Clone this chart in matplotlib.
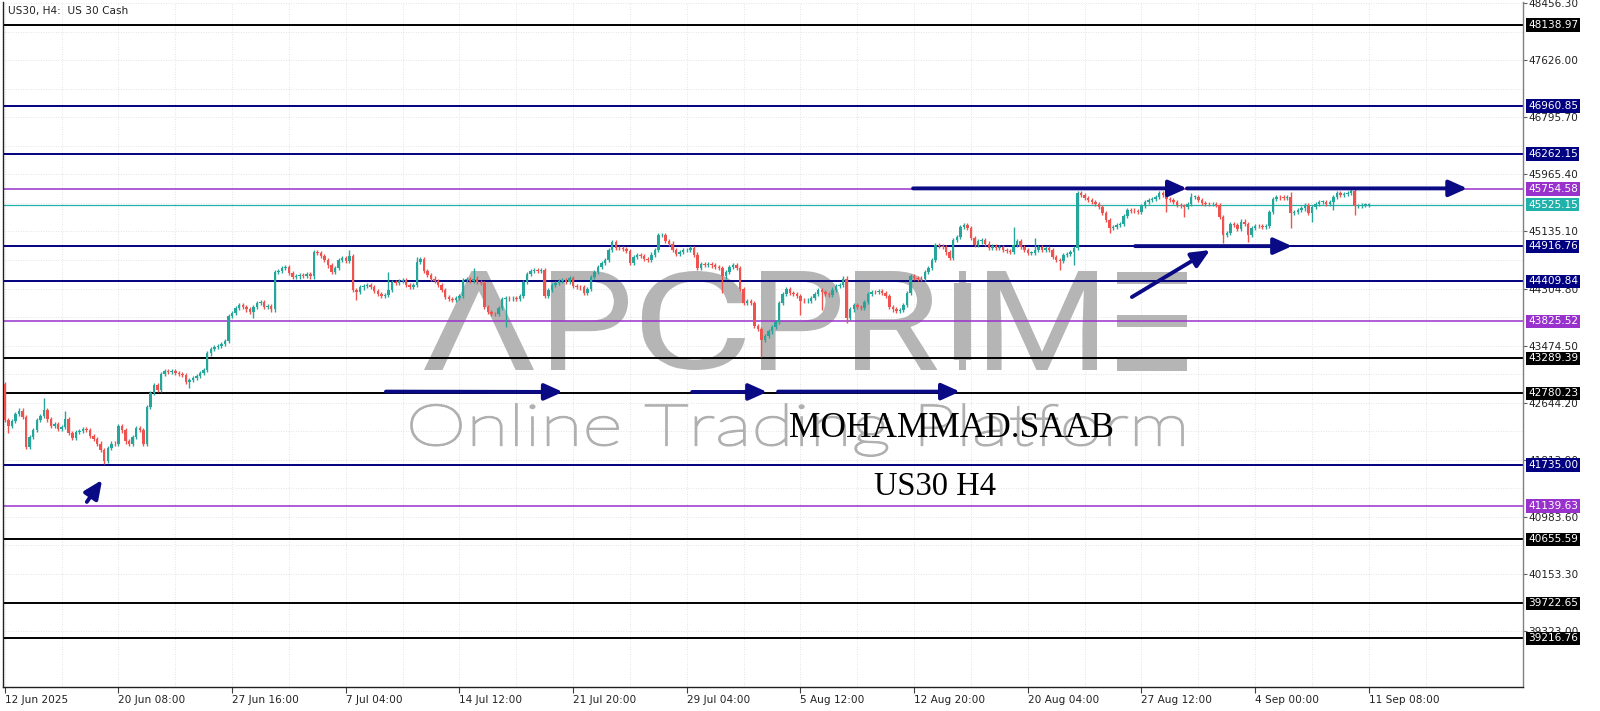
import matplotlib
matplotlib.use('Agg')
import matplotlib.pyplot as plt
import numpy as np
from matplotlib.textpath import TextPath
from matplotlib.patches import PathPatch, Rectangle
from matplotlib.font_manager import FontProperties
from matplotlib.transforms import Affine2D, blended_transform_factory

W, H = 1600, 711

# ---------------- data ----------------
first_open = 42915.0
closes = [
    42391, 42300, 42380, 42480, 42530, 42440, 42003, 42150, 42250, 42390, 42450,   # 0-10
    42540, 42400, 42300, 42330, 42260, 42290, 42400, 42200, 42130, 42220,          # 11-20
    42230, 42260, 42250, 42160, 42110, 42050, 41960, 41800, 41980, 42050,          # 21-30
    42040, 42300, 42240, 42080, 42050, 42150, 42270, 42250, 42050, 42580,          # 31-40
    42780, 42900, 42830, 43060, 43100, 43090, 43110, 43080, 43060, 43050,          # 41-50
    42950, 42970, 43000, 43030, 43080, 43120, 43360, 43430, 43460, 43470,          # 51-60
    43500, 43540, 43900, 43950, 44020, 44060, 44030, 44000, 43960, 44030,          # 61-70
    44100, 44110, 44040, 44050, 44000, 44540, 44560, 44600, 44620, 44530,          # 71-80
    44470, 44480, 44500, 44490, 44510, 44480, 44830, 44820, 44780, 44720,          # 81-90
    44640, 44550, 44600, 44720, 44750, 44700, 44780, 44280, 44250, 44320,          # 91-100
    44340, 44360, 44330, 44270, 44220, 44190, 44210, 44280, 44400, 44380,          # 101-110
    44420, 44430, 44360, 44330, 44350, 44690, 44730, 44560, 44500, 44450,          # 111-120
    44420, 44350, 44280, 44180, 44150, 44140, 44170, 44200, 44430, 44440,          # 121-130
    44420, 44450, 44400, 44390, 44030, 43960, 43940, 43930, 44020, 44150,          # 131-140
    44170, 44160, 44170, 44150, 44200, 44400, 44520, 44560, 44580, 44560,          # 141-150
    44570, 44200, 44280, 44350, 44380, 44420, 44430, 44400, 44460, 44340,          # 151-160
    44330, 44320, 44240, 44300, 44470, 44550, 44620, 44680, 44720, 44870,          # 161-170
    44980, 44900, 44890, 44880, 44850, 44670, 44760, 44790, 44780, 44740,          # 171-180
    44720, 44800, 44870, 45080, 45090, 45000, 44960, 44860, 44810, 44840,          # 181-190
    44860, 44870, 44890, 44800, 44600, 44660, 44650, 44660, 44640, 44620,          # 191-200
    44600, 44480, 44550, 44620, 44640, 44600, 44300, 44100, 44120, 44090,          # 201-210
    43760, 43720, 43560, 43620, 43680, 43740, 43820, 44100, 44230, 44300,          # 211-220
    44240, 44230, 44200, 44130, 44120, 44130, 44170, 44230, 44280, 44250,          # 221-230
    44220, 44210, 44290, 44340, 44360, 44450, 43870, 44000, 44060, 44040,          # 231-240
    44020, 44110, 44230, 44260, 44250, 44270, 44240, 44200, 44040, 44000,          # 241-250
    43980, 43990, 44070, 44240, 44480, 44460, 44450, 44440, 44550, 44600,          # 251-260
    44720, 44940, 44920, 44910, 44830, 44750, 45010, 45060, 45200, 45230,          # 261-270
    45180, 45040, 44940, 44990, 45010, 44960, 44890, 44930, 44900, 44910,          # 271-280
    44870, 44850, 44840, 44940, 44990, 44910, 44870, 44820, 44820, 44870,          # 281-290
    44910, 44860, 44900, 44870, 44770, 44720, 44700, 44790, 44810, 44830,          # 291-300
    44900, 45690, 45660, 45620, 45590, 45570, 45540, 45490, 45400, 45300,          # 301-310
    45180, 45200, 45230, 45250, 45360, 45450, 45440, 45430, 45420, 45510,          # 311-320
    45560, 45590, 45610, 45640, 45690, 45660, 45610, 45590, 45570, 45520,          # 321-330
    45510, 45490, 45540, 45640, 45640, 45590, 45550, 45540, 45530, 45530,          # 331-340
    45520, 45350, 45090, 45110, 45250, 45230, 45170, 45280, 45250, 45080,          # 341-350
    45180, 45220, 45210, 45200, 45220, 45420, 45610, 45640, 45630, 45620,          # 351-360
    45640, 45400, 45420, 45450, 45470, 45520, 45400, 45490, 45540, 45570,          # 361-370
    45570, 45540, 45560, 45640, 45690, 45670, 45680, 45700, 45720, 45500,          # 371-380
    45500, 45520, 45520, 45525.15,                                                 # 381-384
]
high_marks = {11: 42707, 17: 42530, 97: 44860, 108: 44550, 116: 44760, 132: 44600,
              171: 45010, 184: 45120, 236: 44490, 284: 45205, 290: 45035, 302: 45720,
              334: 45690, 362: 45714, 380: 45738}
low_marks = {1: 42198, 28: 41750, 52: 42852, 70: 43870, 99: 44138, 141: 43750,
             202: 44235, 213: 43313, 224: 43919, 230: 43992, 237: 43798, 297: 44574,
             301: 44647, 311: 45107, 327: 45423, 332: 45350, 343: 44962, 350: 44986,
             362: 45180, 368: 45277, 374: 45447, 380: 45374}
typical_wick = 30

level_prices = [48138.97, 46960.85, 46262.15, 45754.58, 45525.15, 44916.76, 44409.84,
                43825.52, 43289.39, 42780.23, 41735.00, 41139.63, 40655.59, 39722.65, 39216.76]
level_kinds = ['black', 'navy', 'navy', 'purple', 'teal', 'navy', 'navy',
               'purple', 'black', 'black', 'navy', 'purple', 'black', 'black', 'black']

ytick_values = [48456.30, 47626.00, 46795.70, 45965.40, 45135.10, 44304.80, 43474.50,
                42644.20, 41813.90, 40983.60, 40153.30, 39323.00]
xtick_bars = [0, 32, 64, 96, 128, 160, 192, 224, 256, 288, 320, 352, 384]
xtick_labels = ['12 Jun 2025', '20 Jun 08:00', '27 Jun 16:00', '7 Jul 04:00', '14 Jul 12:00',
                '21 Jul 20:00', '29 Jul 04:00', '5 Aug 12:00', '12 Aug 20:00', '20 Aug 04:00',
                '27 Aug 12:00', '4 Sep 00:00', '11 Sep 08:00']

# arrows: (start bar, start price) -> (end bar, end price)
arrows = [
    ((23.1, 41200), (27.4, 41520)),
    ((107.3, 42805), (157.1, 42800)),
    ((193.5, 42800), (214.6, 42800)),
    ((217.7, 42805), (268.9, 42805)),
    ((255.7, 45762), (332.8, 45762)),
    ((332.8, 45762), (411.7, 45762)),
    ((318.2, 44922), (362.4, 44922)),
    ((317.3, 44181), (339.3, 44865)),
]

# ---------------- styling ----------------
COL = {'black': '#000000', 'navy': '#000080', 'purple': '#9932CC', 'teal': '#20B2AA'}
LW = {'black': 1.4, 'navy': 1.4, 'purple': 1.1, 'teal': 0.9}
UP, DOWN = '#26A69A', '#EF5350'
NAVY = '#0A0A85'
WM = '#B5B5B5'

fig = plt.figure(figsize=(W / 100, H / 100), dpi=100)
fig.patch.set_facecolor('white')
ax = fig.add_axes([3 / W, (H - 687) / H, 1520 / W, 685 / H])
ax.set_facecolor('none')


def fit_text(text, prop, x0, y0, x1, y1, color, z, edge_lw=0.0):
    tp = TextPath((0, 0), text, size=100, prop=prop)
    ext = tp.get_extents()
    sx = (x1 - x0) / W / ext.width
    sy = (y1 - y0) / H / ext.height
    tr = (Affine2D().translate(-ext.x0, -ext.y0).scale(sx, sy)
          .translate(x0 / W, 1 - y1 / H) + fig.transFigure)
    p = PathPatch(tp, transform=tr, facecolor=color,
                  edgecolor=color if edge_lw > 0 else 'none', lw=edge_lw, zorder=z)
    ax.add_artist(p)


def px_rect(x0, y0, x1, y1, color, z):
    r = Rectangle((x0 / W, 1 - y1 / H), (x1 - x0) / W, (y1 - y0) / H,
                  transform=fig.transFigure, facecolor=color, edgecolor='none', zorder=z)
    ax.add_artist(r)


# watermark logo "APCPRIME"
logo_font = FontProperties(family='Roboto', weight='normal')
top, bot = 271, 370
for ch, (a, b) in [('Λ', (424, 534)), ('P', (551, 628)), ('C', (642, 745)),
                   ('P', (761, 840)), ('R', (855, 937)), ('M', (987, 1097))]:
    fit_text(ch, logo_font, a, top, b, bot, WM, 0.6)
# the "I" drawn as a candlestick
px_rect(959, top, 966, bot, WM, 0.6)
px_rect(954, 283, 971, 360, WM, 0.6)
# the "E" as three bars
for (t, b) in [(272, 284), (315, 327), (359, 371)]:
    px_rect(1117, t, 1187, b, WM, 0.6)
fit_text('Online Trading Platform', FontProperties(family='Lato', weight='light'),
         411, 404, 1183, 456, '#B0B0B0', 0.6, edge_lw=1.3)

# candles
c = np.array(closes, dtype=float)
o = np.array([first_open] + closes[:-1], dtype=float)
x = np.arange(len(c))
hi = np.maximum(o, c) + typical_wick
lo = np.minimum(o, c) - typical_wick
for i, v in high_marks.items():
    hi[i] = max(hi[i], v)
for i, v in low_marks.items():
    lo[i] = min(lo[i], v)
colors = [UP if cc >= oo else DOWN for oo, cc in zip(o, c)]
ax.vlines(x, lo, hi, colors=colors, lw=1.0, zorder=2)
body_b = np.minimum(o, c)
body_h = np.maximum(np.abs(c - o), 10)
ax.bar(x, body_h, bottom=body_b, width=0.7, color=colors, linewidth=0, zorder=3)

# levels
trans = blended_transform_factory(ax.transAxes, ax.transData)
for p, k in zip(level_prices, level_kinds):
    ax.axhline(p, color=COL[k], lw=LW[k], zorder=1.5)
    ax.text(1.0 + 5 / 1520, p, f'{p:.2f}', transform=trans, ha='left', va='center',
            fontsize=7.6, color='white', clip_on=False, zorder=10,
            bbox=dict(boxstyle='square,pad=0.16', fc=COL[k], ec='none'))

# arrows
for (s, e) in arrows:
    ax.annotate('', xy=e, xytext=s,
                arrowprops=dict(arrowstyle='-|>,head_length=1.0,head_width=0.45',
                                color=NAVY, lw=2.8, shrinkA=0, shrinkB=0,
                                mutation_scale=11), zorder=5)

# axes
ax.set_xlim(-0.5, 427.4)
ax.set_ylim(38507, 48474)
ax.yaxis.tick_right()
ax.set_yticks(ytick_values)
ax.set_yticklabels([f'{v:.2f}' for v in ytick_values])
yt = np.array(ytick_values)
ax.set_yticks(list((yt[:-1] + yt[1:]) / 2), minor=True)
ax.set_xticks(xtick_bars)
ax.set_xticklabels(xtick_labels)
ax.set_xticks([b + 16 for b in xtick_bars], minor=True)
for lbl in ax.get_xticklabels():
    lbl.set_ha('left')
ax.tick_params(axis='y', which='major', length=3, pad=1, labelsize=7.6,
               color='#606060', labelcolor='#222222')
ax.tick_params(axis='x', which='major', length=4, pad=2, labelsize=7.6,
               color='#404040', labelcolor='#222222')
ax.tick_params(which='minor', length=0)
ax.grid(which='both', color='#DADADA', ls=(0, (1, 2)), lw=0.6, zorder=0)
ax.set_axisbelow(True)
ax.spines['top'].set_visible(False)
ax.spines['left'].set_color('#202020')
ax.spines['bottom'].set_color('#202020')
ax.spines['right'].set_color('#808080')
for s in ['left', 'bottom', 'right']:
    ax.spines[s].set_linewidth(1.0)

# texts
fig.text(8 / W, 1 - 11 / H, 'US30, H4:  US 30 Cash', fontsize=7.6, ha='left',
         va='center', color='#222222')
fig.text(951 / W, 1 - 437 / H, 'MOHAMMAD.SAAB', family='Liberation Serif',
         fontsize=25.5, ha='center', va='baseline', color='black')
fig.text(935 / W, 1 - 495 / H, 'US30 H4', family='Liberation Serif',
         fontsize=23.5, ha='center', va='baseline', color='black')

fig.savefig('out.png', dpi=100, facecolor='white')
